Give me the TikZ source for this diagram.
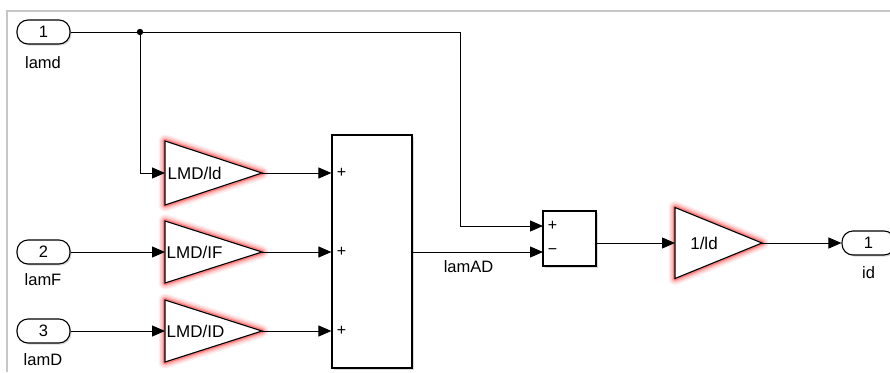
\documentclass[tikz,border=0pt]{standalone}
\usepackage{fontspec}
\setmainfont{Liberation Sans}
\usetikzlibrary{arrows.meta,shadows}
\newcommand\gainblk[5]{% name, xleft, xtip, ycenter, halfheight
  \foreach \w/\o in {13/0.07,10/0.10,7/0.16,4/0.30}{%
    \draw[red,line width=\w pt,opacity=\o,line join=round] (#2,#4-#5) -- (#3,#4) -- (#2,#4+#5) -- cycle;}
  \draw[line width=1.1pt,fill=white,line join=miter] (#2,#4-#5) -- (#3,#4) -- (#2,#4+#5) -- cycle;
  \coordinate (#1in) at (#2,#4);
  \coordinate (#1out) at (#3,#4);
}
\begin{document}
\begin{tikzpicture}[x=1pt,y=-1pt,
  wire/.style={line width=1pt},
  arr/.style={wire,-{Triangle[length=13pt,width=11pt]}},
  port/.style={draw,line width=1.1pt,rounded corners=11pt,minimum width=53pt,minimum height=24pt,inner sep=0pt,fill=white,
    drop shadow={shadow xshift=1.5pt,shadow yshift=-1.5pt,opacity=0.3},font=\fontsize{16.5}{16.5}\selectfont},
  blk/.style={draw,line width=1.2pt,fill=white,inner sep=0pt,
    drop shadow={shadow xshift=2pt,shadow yshift=-2pt,opacity=0.3}},
  lbl/.style={font=\fontsize{16.5}{16.5}\selectfont,inner sep=0pt},
  gtxt/.style={font=\fontsize{17}{17}\selectfont,inner sep=0pt},
  sgn/.style={font=\fontsize{16}{16}\selectfont,inner sep=0pt},
]
\useasboundingbox (0,0) rectangle (890,372);
% frame
\draw[black!22,line width=1.2pt] (7,372) -- (7,11) -- (890,11);

% inports
\node[port] (in1) at (43.5,32) {1};
\node[lbl,anchor=base] (lin1) at (43,68) {lamd};
\node[port] (in2) at (43.5,252) {2};
\node[lbl,anchor=base] (lin2) at (43,285) {lamF};
\node[port] (in3) at (43.5,331) {3};
\node[lbl,anchor=base] (lin3) at (43,365) {lamD};

% gains
\gainblk{g1}{165}{262}{173}{32}
\node[gtxt,anchor=west] (g1t) at (167.5,173) {LMD/ld};
\gainblk{g2}{165}{262}{252}{31}
\node[gtxt,anchor=west] (g2t) at (166.5,252) {LMD/IF};
\gainblk{g3}{165}{262}{331}{31}
\node[gtxt,anchor=west] (g3t) at (166.5,331) {LMD/ID};
\gainblk{g4}{675}{762}{243}{35.5}
\node[gtxt] (g4t) at (704,243) {1/ld};

% sums
\node[blk,minimum width=80pt,minimum height=233pt] (sum1) at (372,251.5) {};
\node[sgn] (s1a) at (341.5,173) {+};
\node[sgn] (s1b) at (341.5,252) {+};
\node[sgn] (s1c) at (341.5,331) {+};
\node[blk,minimum width=53pt,minimum height=55pt] (sum2) at (569.5,238.5) {};
\node[sgn] (s2a) at (552.5,225.5) {+};
\node[sgn] (s2b) at (552.5,252) {−};

% outport
\node[port] (out1) at (868.5,243) {1};
\node[lbl,anchor=base] (lout) at (868.5,278) {id};

% wires
\coordinate (br) at (140,32);
\coordinate (s2p) at (543,226);
\coordinate (s2m) at (543,252);
\draw[wire] (in1.east) -- (br);
\draw[arr] (br) -- (br -| 460,0) -- (460,226) -- (s2p);
\draw[arr] (br) |- (g1in);
\fill (br) circle (3.2pt);
\draw[arr] (in2.east) -- (g2in);
\draw[arr] (in3.east) -- (g3in);
\draw[arr] (g1out) -- (g1out -| sum1.west);
\draw[arr] (g2out) -- (g2out -| sum1.west);
\draw[arr] (g3out) -- (g3out -| sum1.west);
\draw[arr] (sum1.east |- s2m) -- (s2m);
\node[lbl,anchor=base] (lamAD) at (468.5,272) {lamAD};
\draw[arr] (sum2.east |- g4in) -- (g4in);
\draw[arr] (g4out) -- (out1.west);
\end{tikzpicture}
\end{document}
